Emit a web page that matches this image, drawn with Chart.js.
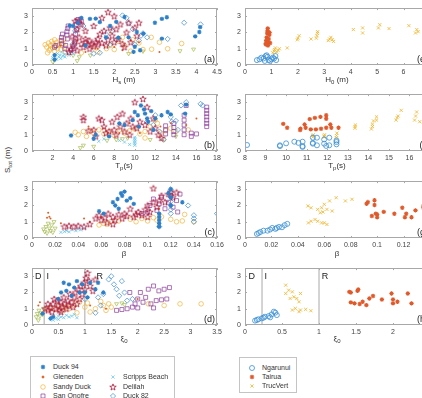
<!DOCTYPE html>
<html>
<head>
<meta charset="utf-8">
<script src="https://cdn.jsdelivr.net/npm/chart.js@4.4.1/dist/chart.umd.min.js"></script>
<style>
body { margin:0; width:422px; height:398px; overflow:hidden; position:relative; background:#fff;
       font-family:"Liberation Sans", Arial, sans-serif; color:#333; }
canvas { position:absolute; }
.titulo { position:absolute; font-size:8px; transform:translate(-50%,-50%); white-space:nowrap; }
.titulo sub { font-size:6px; vertical-align:-2px; }
.ylabel { position:absolute; left:8px; top:160px; font-size:8px; white-space:nowrap;
          transform:translate(-50%,-50%) rotate(-90deg); }
.ylabel sub { font-size:6px; vertical-align:-2px; }
.leyenda { position:absolute; border:1px solid #c4c4c4; background:#fff; }
.item { position:absolute; font-size:7px; white-space:nowrap; line-height:8px; }
.item canvas { position:absolute; left:-15px; top:-1px; }
</style>
</head>
<body>

<div class="ylabel">S<sub>tot</sub> (m)</div>

<script>
// ---- ticks ----
const ticksS = [0, 1, 2, 3];
const ticksHs = [0, 0.5, 1, 1.5, 2, 2.5, 3, 3.5, 4, 4.5];
const ticksTp = [2, 4, 6, 8, 10, 12, 14, 16, 18];
const ticksBeta = [0, 0.02, 0.04, 0.06, 0.08, 0.1, 0.12, 0.14, 0.16];
const ticksXi = [0, 0.5, 1, 1.5, 2, 2.5, 3, 3.5];
const ticksH0 = [0, 1, 2, 3, 4, 5, 6, 7];
const ticksTp2 = [8, 9, 10, 11, 12, 13, 14, 15, 16, 17];
const ticksBeta2 = [0, 0.02, 0.04, 0.06, 0.08, 0.1, 0.12, 0.14];
const ticksXi2 = [0, 0.5, 1, 1.5, 2, 2.5];

// limites de regimen (D / I / R)
const limitesXi = [0.23, 1];

// ---- (a) Hs ----
const duck94_a = [[0.92,2.43],[1.0,2.4],[1.12,2.6],[1.2,2.9],[1.41,2.84],[1.55,2.85],[1.65,2.64],[1.9,2.4],[2.05,2.65],[2.25,2.95],[2.1,1.68],[2.35,1.7],[2.55,2.03],[2.71,1.93],[2.99,2.6],[3.16,2.84],[3.28,2.94],[3.16,1.62],[3.97,1.76],[4.07,2.03],[4.09,2.33],[2.47,0.81],[2.63,0.91],[2.5,1.12],[1.3,1.2],[0.55,0.61],[0.55,0.34],[1.8,1.7]];
const gleneden_a = [[0.7,1.2],[1.1,1.5],[1.3,0.8],[1.6,1.0],[2.0,1.1],[2.4,1.5],[2.6,1.4],[3.1,0.8],[2.2,0.9],[1.9,2.0]];
const sandy_a = [[0.32,1.25],[0.36,1.1],[0.4,1.35],[0.42,0.9],[0.45,1.2],[0.48,1.45],[0.5,1.05],[0.52,1.3],[0.55,0.85],[0.58,1.15],[0.6,1.4],[0.62,1.0],[0.65,1.25],[0.68,1.5],[0.7,0.95],[0.72,1.2],[0.75,1.35],[0.78,1.6],[0.8,1.1],[0.82,0.8],[0.38,0.75],[0.55,1.55],[0.45,1.0],[1.6,0.8],[1.81,1.01],[1.9,1.2],[2.0,0.95],[2.1,1.45],[2.25,1.2],[2.4,0.85],[2.45,1.55],[2.6,1.35],[2.7,0.95],[2.91,0.97],[2.9,1.7],[3.1,1.4],[3.64,1.32],[3.3,1.0],[1.5,1.05],[1.2,0.75],[2.2,1.7]];
const sanOnofre_a = [[0.55,1.1],[0.58,1.2],[0.72,1.3],[0.72,1.5],[0.72,1.7],[0.74,1.9],[0.8,1.0],[0.82,1.2],[0.85,1.85],[0.85,2.05],[0.87,2.25],[0.88,2.4],[0.86,1.6],[1.02,1.0],[1.04,1.3],[1.05,1.6],[1.06,1.9],[1.08,2.2],[1.08,2.5],[1.1,2.7],[1.12,2.8],[1.15,2.6],[1.2,2.7],[0.95,0.9]];
const scripps_a = [[0.5,0.45],[0.55,0.55],[0.6,0.35],[0.62,0.7],[0.65,0.5],[0.68,0.6],[0.7,0.4],[0.72,0.8],[0.75,0.55],[0.78,0.65],[0.8,0.5],[0.85,0.75],[0.9,0.6],[0.95,0.85],[1.0,0.7]];
const delilah_a = [[0.9,0.8],[0.95,1.0],[1.0,1.2],[1.05,1.45],[1.1,0.9],[1.15,1.7],[1.2,1.3],[1.25,1.1],[1.3,1.4],[1.3,1.6],[1.35,1.25],[1.4,1.0],[1.4,1.5],[1.45,1.3],[1.5,1.15],[1.55,1.4],[1.6,1.6],[1.6,1.25],[1.65,1.9],[1.7,1.35],[1.75,2.1],[1.8,1.2],[1.85,1.55],[1.9,2.3],[1.95,1.8],[2.0,1.4],[2.05,2.2],[2.1,1.6],[2.15,2.5],[2.2,1.3],[2.3,2.0],[2.35,2.6],[2.4,1.4],[2.5,2.3],[2.55,1.8],[1.2,2.5],[1.15,2.75],[1.05,2.7],[1.85,3.25],[1.7,2.9],[2.0,3.0],[1.3,2.1],[1.1,2.2],[0.98,1.75],[1.5,2.4],[2.25,1.1],[2.6,2.6]];
const duck82_a = [[1.0,1.3],[1.05,2.1],[1.5,0.7],[1.65,0.75],[1.8,1.9],[1.95,2.1],[2.05,1.55],[2.2,3.05],[2.3,2.9],[2.35,2.55],[2.45,2.2],[2.5,1.25],[2.6,1.5],[2.65,1.8],[2.7,1.95],[2.8,1.7],[3.3,1.6],[3.7,2.6],[4.1,2.5],[1.25,2.4],[1.9,1.25]];
const otros_a = [[0.5,0.22],[0.55,0.3],[1.1,0.26],[1.15,0.5],[1.42,0.6],[1.0,0.6],[2.7,0.85],[3.6,0.87],[3.93,0.97],[2.35,0.7]];

// ---- (b) Tp ----
const duck94_b = [[3.8,0.95],[6.0,0.75],[6.2,1.0],[7.5,0.9],[9.0,1.6],[9.8,1.9],[10.0,2.4],[10.3,2.2],[10.6,2.8],[10.9,2.55],[11.0,2.3],[11.2,2.0],[11.3,1.8],[11.6,2.45],[12.0,2.0],[12.6,2.2],[13.2,2.4],[13.5,2.25],[14.9,2.3],[15.0,2.85],[10.4,1.5],[11.8,1.3],[8.5,1.7]];
const gleneden_b = [[5.5,1.5],[7.0,1.4],[8.5,1.1],[9.5,1.7],[10.5,1.1],[12.5,1.5],[13.5,1.7],[15.0,1.6],[16.0,2.0]];
const sandy_b = [[4.2,1.15],[4.5,1.0],[5.0,1.2],[5.3,0.9],[5.7,1.25],[6.0,1.1],[6.5,1.3],[7.0,1.05],[7.5,1.2],[8.0,0.95],[8.5,1.3],[9.0,1.1],[9.5,1.25],[10.0,1.35],[10.5,1.05],[11.0,1.2],[11.5,1.5],[12.0,1.9],[12.2,1.7],[12.5,1.1],[13.0,1.25],[13.5,1.4],[14.0,1.2],[15.2,1.3],[11.0,0.8],[12.8,0.7]];
const sanOnofre_b = [[13.0,1.05],[13.0,1.3],[13.0,1.55],[13.8,1.0],[13.8,1.2],[13.8,1.45],[13.8,1.7],[14.8,1.0],[14.8,1.3],[14.8,1.6],[14.8,1.9],[14.8,2.2],[15.5,0.9],[15.5,1.1],[17.0,1.5],[17.0,1.7],[17.0,1.9],[17.0,2.1],[17.0,2.3],[17.0,2.5],[17.0,2.7],[16.0,1.05],[15.0,2.8]];
const scripps_b = [[10.0,0.35],[10.0,0.45],[10.0,0.55],[10.0,0.65],[10.0,0.75],[10.0,0.85],[9.0,0.55],[8.5,0.65],[6.5,0.6],[7.0,0.75],[9.5,0.4]];
const delilah_b = [[5.0,1.9],[5.0,2.1],[5.5,1.25],[6.0,1.3],[6.5,2.0],[6.8,1.9],[7.0,1.5],[7.5,1.2],[7.8,1.8],[8.0,1.3],[8.3,2.1],[8.6,1.5],[8.8,2.3],[9.0,1.2],[9.2,1.7],[9.5,1.0],[9.6,2.0],[10.0,3.0],[10.2,1.4],[10.5,1.8],[10.8,3.2],[11.0,1.6],[11.2,2.7],[11.5,1.2],[11.8,2.0],[12.0,1.4],[12.3,1.0],[12.6,0.8],[9.8,1.5],[8.2,1.0],[7.2,1.1],[6.2,0.9]];
const duck82_b = [[11.2,1.8],[11.8,1.6],[12.0,2.2],[12.4,1.2],[12.8,0.7],[13.5,2.1],[13.6,1.8],[14.0,1.85],[14.5,2.8],[15.0,3.0],[16.4,2.9],[16.6,2.8],[14.2,1.3]];
const otros_b = [[4.7,0.2],[5.0,0.35],[6.0,0.28],[7.3,0.65],[8.2,0.7],[8.8,0.75],[9.3,0.8],[14.0,0.9],[11.5,0.7]];

// ---- (c) beta ----
const duck94_c = [[0.07,2.2],[0.072,2.0],[0.074,2.4],[0.075,1.8],[0.077,2.75],[0.078,2.6],[0.08,2.85],[0.082,2.3],[0.085,2.45],[0.088,2.1],[0.058,1.65],[0.062,1.5],[0.11,0.7],[0.11,0.9],[0.11,1.1],[0.11,1.3],[0.11,1.5],[0.12,2.0],[0.12,2.5],[0.12,3.0],[0.118,2.75],[0.13,2.2]];
const gleneden_c = [[0.013,1.25],[0.014,1.55],[0.015,1.3],[0.016,1.2],[0.025,0.9],[0.045,1.2],[0.05,1.0],[0.06,1.3],[0.09,1.5],[0.11,1.8]];
const sandy_c = [[0.058,0.8],[0.062,0.9],[0.065,0.85],[0.068,1.0],[0.075,1.05],[0.085,1.15],[0.09,1.0],[0.095,1.2],[0.1,1.05],[0.105,1.25],[0.108,1.1],[0.112,1.3],[0.12,1.15],[0.125,1.0],[0.13,1.05],[0.14,1.0],[0.132,1.45]];
const sanOnofre_c = [[0.1,1.6],[0.102,2.0],[0.105,2.4],[0.108,1.7],[0.11,2.1],[0.112,2.5],[0.115,1.8],[0.118,2.2],[0.12,2.6],[0.122,1.9],[0.125,2.3],[0.126,1.6],[0.128,2.7],[0.095,1.5]];
const scripps_c = [[0.025,0.35],[0.028,0.4],[0.03,0.45],[0.032,0.38],[0.035,0.5],[0.038,0.45],[0.04,0.55],[0.042,0.5],[0.045,0.6]];
const delilah_c = [[0.028,0.7],[0.032,0.75],[0.036,0.7],[0.04,0.75],[0.045,0.7],[0.05,0.85],[0.055,1.2],[0.058,1.4],[0.06,1.1],[0.063,1.25],[0.066,1.5],[0.07,1.3],[0.072,1.1],[0.075,1.45],[0.078,1.2],[0.08,1.5],[0.082,1.35],[0.085,1.8],[0.088,1.3],[0.09,1.45],[0.092,1.6],[0.095,1.4],[0.098,1.75],[0.1,2.0],[0.102,1.6],[0.105,3.05],[0.105,2.2],[0.108,1.9],[0.11,2.3],[0.112,2.6],[0.115,2.2],[0.118,2.7],[0.12,2.85],[0.122,2.5],[0.125,2.8],[0.1,1.3],[0.065,0.95],[0.07,0.85]];
const duck82_c = [[0.12,1.5],[0.12,1.75],[0.12,2.0],[0.12,2.25],[0.12,2.5],[0.12,2.8],[0.12,3.0],[0.11,0.7],[0.14,1.0],[0.14,1.2],[0.14,1.4],[0.16,1.5],[0.135,2.0]];
const otros_c = [[0.01,0.55],[0.011,0.4],[0.012,0.7],[0.013,0.3],[0.014,0.9],[0.015,0.6],[0.016,0.45],[0.017,0.8],[0.018,0.35],[0.019,1.0],[0.02,0.6]];

// ---- (d) xi0 ----
const duck94_d = [[0.5,1.6],[0.55,2.0],[0.6,2.6],[0.65,2.1],[0.7,2.5],[0.75,1.8],[0.8,2.3],[0.85,2.7],[0.9,2.0],[0.95,2.5],[1.0,2.0],[1.05,1.7],[1.1,2.6],[1.2,2.2],[1.25,2.6],[1.35,2.0],[0.4,0.5],[0.35,0.4],[0.2,0.7]];
const gleneden_d = [[0.12,1.2],[0.15,1.4],[0.35,0.9],[0.5,1.0],[0.8,1.5],[1.1,1.2],[1.4,1.0],[2.0,1.6]];
const sandy_d = [[0.3,1.0],[0.35,1.1],[0.45,0.95],[0.5,1.2],[0.55,1.05],[0.6,0.9],[0.65,1.15],[0.7,1.0],[0.8,1.2],[0.9,1.4],[1.0,1.1],[1.05,1.35],[1.1,0.8],[1.2,1.0],[1.3,1.45],[1.35,1.2],[1.4,0.9],[1.45,1.3],[1.5,1.1],[2.2,1.3],[2.5,1.2],[2.8,1.3],[3.2,1.3],[0.85,0.75]];
const sanOnofre_d = [[1.6,0.9],[1.7,0.95],[1.8,1.0],[1.9,1.1],[1.95,1.3],[2.0,1.6],[2.05,2.0],[2.1,1.4],[2.15,1.7],[2.2,2.2],[2.25,1.3],[2.3,2.4],[2.35,1.5],[2.4,2.1],[2.45,1.55],[2.5,2.2],[2.55,1.6],[2.6,2.3],[1.85,2.0],[2.0,1.05],[2.3,1.05]];
const scripps_d = [[0.4,0.3],[0.45,0.4],[0.5,0.35],[0.55,0.5],[0.6,0.45],[0.65,0.6],[0.7,0.5],[0.75,0.55],[0.8,0.65],[0.5,0.55],[0.85,0.45]];
const delilah_d = [[0.3,0.9],[0.35,1.1],[0.38,0.8],[0.4,1.3],[0.45,1.0],[0.48,1.5],[0.5,1.2],[0.52,0.9],[0.55,1.4],[0.58,1.1],[0.6,1.7],[0.62,1.3],[0.65,1.0],[0.68,1.5],[0.7,1.2],[0.72,1.9],[0.75,1.4],[0.78,1.1],[0.8,1.7],[0.82,2.0],[0.85,1.3],[0.88,2.2],[0.9,1.6],[0.92,2.4],[0.95,1.9],[0.98,2.6],[1.0,2.2],[1.02,2.9],[1.05,3.2],[1.08,2.7],[1.1,2.4],[1.15,2.1],[1.2,2.8],[0.42,1.6],[0.55,0.8],[0.25,1.0],[0.3,1.3]];
const duck82_d = [[1.0,1.6],[1.2,0.75],[1.3,1.2],[1.35,1.9],[1.45,2.8],[1.5,3.0],[1.55,2.5],[1.6,2.2],[1.65,1.8],[1.7,2.7],[1.75,2.0],[1.8,1.5],[1.9,1.6],[1.25,1.7]];
const otros_d = [[0.08,0.5],[0.1,0.7],[0.12,0.3],[0.13,0.9],[0.15,0.55],[0.17,0.75],[0.2,0.65],[0.22,1.0],[1.6,1.3],[1.7,1.35],[1.75,1.25]];

// ---- (e) H0 ----
const ngarunui_e = [[0.45,0.3],[0.55,0.35],[0.62,0.45],[0.7,0.4],[0.78,0.55],[0.82,0.6],[0.9,0.3],[0.95,0.25],[1.0,0.35],[1.05,0.45],[1.1,0.4],[1.15,0.55],[1.18,0.3],[0.85,0.5],[0.75,0.25]];
const tairua_e = [[0.78,1.3],[0.8,1.5],[0.82,1.7],[0.84,1.95],[0.85,2.1],[0.86,2.25],[0.88,1.4],[0.9,1.6],[0.92,1.85],[0.93,2.0],[0.95,1.35],[0.8,1.25],[0.87,1.2]];
const trucvert_e = [[1.05,0.75],[1.1,0.85],[1.12,0.95],[1.15,1.05],[1.2,0.8],[1.25,0.9],[1.3,1.0],[1.6,1.05],[1.98,1.55],[2.0,1.65],[2.05,1.8],[2.5,1.6],[2.7,1.65],[2.72,1.8],[2.74,1.95],[2.75,2.05],[3.15,1.5],[3.2,1.6],[3.25,1.7],[3.3,1.55],[3.35,1.45],[4.1,2.18],[4.45,1.97],[4.45,2.28],[5.05,2.28],[5.1,2.48],[5.45,2.24],[6.2,2.42],[6.45,1.97],[6.5,2.18],[6.55,2.05]];

// ---- (f) Tp ----
const ngarunui_f = [[8.1,0.37],[9.7,0.35],[9.7,0.3],[10.0,0.47],[10.4,0.57],[10.6,0.5],[10.8,0.57],[10.8,0.3],[10.8,0.25],[11.3,0.45],[11.3,0.5],[11.3,0.82],[11.5,0.82],[11.5,0.35],[11.85,0.71],[11.85,0.45],[11.95,0.31],[12.1,0.82],[12.1,0.35],[12.45,0.65],[12.45,0.41],[12.45,0.55]];
const tairua_f = [[9.86,1.67],[10.05,1.43],[10.68,1.29],[10.7,1.37],[10.9,1.63],[10.95,1.43],[11.15,1.96],[11.4,2.04],[11.67,2.1],[11.95,2.2],[11.95,1.98],[11.2,1.33],[11.45,1.33],[11.7,1.37],[11.95,1.43],[12.2,1.43],[12.55,1.43],[12.15,1.63]];
const trucvert_f = [[11.3,0.85],[11.3,0.95],[11.32,1.0],[11.85,0.85],[11.85,0.92],[11.87,1.0],[12.45,0.8],[12.45,0.95],[12.47,1.1],[13.35,1.4],[13.35,1.5],[13.37,1.6],[14.15,1.35],[14.2,1.5],[14.2,1.65],[14.25,1.85],[14.4,1.9],[14.4,2.1],[15.35,1.9],[15.4,2.05],[15.45,2.15],[15.6,2.5],[16.25,1.9],[16.3,2.15],[16.35,2.4],[16.5,1.8]];

// ---- (g) beta ----
const ngarunui_g = [[0.009,0.25],[0.0103,0.31],[0.0116,0.37],[0.014,0.45],[0.017,0.45],[0.019,0.52],[0.0206,0.62],[0.023,0.56],[0.024,0.62],[0.0257,0.68],[0.028,0.66],[0.03,0.79],[0.032,0.87]];
const tairua_g = [[0.092,2.11],[0.093,2.21],[0.098,2.32],[0.098,2.03],[0.096,1.35],[0.099,1.5],[0.1,1.28],[0.1,1.45],[0.105,1.61],[0.113,1.49],[0.119,1.86],[0.121,1.28],[0.122,1.49],[0.126,1.28],[0.129,1.7],[0.135,1.97],[0.135,1.86]];
const trucvert_g = [[0.0476,1.97],[0.05,1.86],[0.055,1.76],[0.058,1.86],[0.06,2.07],[0.062,1.76],[0.064,2.28],[0.069,2.48],[0.076,2.28],[0.081,2.38],[0.053,1.14],[0.055,1.03],[0.058,0.93],[0.06,0.93],[0.062,0.83],[0.05,1.03],[0.048,0.93],[0.066,1.66],[0.059,1.6],[0.057,1.55]];

// ---- (h) xi0 ----
const ngarunui_h = [[0.136,0.27],[0.16,0.31],[0.18,0.35],[0.227,0.41],[0.25,0.45],[0.27,0.51],[0.32,0.55],[0.34,0.47],[0.36,0.65],[0.39,0.82],[0.41,0.76],[0.43,0.61]];
const tairua_h = [[1.41,2.04],[1.43,2.0],[1.52,2.1],[1.53,2.18],[1.43,1.39],[1.48,1.33],[1.55,1.29],[1.59,1.43],[1.64,1.22],[1.68,1.63],[1.73,1.78],[1.85,1.57],[1.98,1.94],[2.0,1.57],[2.0,1.33],[2.06,1.43],[2.2,1.94],[2.25,1.33]];
const trucvert_h = [[0.55,2.45],[0.59,2.14],[0.55,1.94],[0.64,2.04],[0.66,1.73],[0.7,1.63],[0.75,1.94],[0.61,1.63],[0.73,1.43],[0.64,0.92],[0.68,1.02],[0.75,0.92],[0.82,0.96],[0.89,0.88],[0.73,0.82]];

// ---- estilos ----
function pentagrama(color) {
    const c = document.createElement("canvas");
    c.width = 8; c.height = 8;
    const ctx = c.getContext("2d");
    ctx.strokeStyle = color;
    ctx.lineWidth = 0.8;
    ctx.beginPath();
    for (let i = 0; i < 10; i++) {
        const r = i % 2 === 0 ? 3.4 : 1.4;
        const ang = -Math.PI / 2 + i * Math.PI / 5;
        const px = 4 + r * Math.cos(ang), py = 4.3 + r * Math.sin(ang);
        if (i === 0) ctx.moveTo(px, py); else ctx.lineTo(px, py);
    }
    ctx.closePath();
    ctx.stroke();
    return c;
}

const estilos = {
    duck94:    { label: "Duck 94",       color: "#2d7fc8", forma: "star",     r: 2.2, w: 1.1 },
    gleneden:  { label: "Gleneden",      color: "#d9622b", forma: "circle",   r: 1.0, w: 0, fill: "#d9622b" },
    sandy:     { label: "Sandy Duck",    color: "#f0b43c", forma: "circle",   r: 2.3, w: 0.7 },
    sanOnofre: { label: "San Onofre",    color: "#8a3a9a", forma: "rect",     r: 2.8, w: 0.7 },
    scripps:   { label: "Scripps Beach", color: "#5cc0e8", forma: "crossRot", r: 2.2, w: 0.7 },
    delilah:   { label: "Delilah",       color: "#a8183a", forma: pentagrama("#a8183a"), r: 2.6, w: 0.7 },
    duck82:    { label: "Duck 82",       color: "#3b8ad0", forma: "rectRot",  r: 2.6, w: 0.7 },
    otros:     { label: "",              color: "#a6bc52", forma: "triangle", r: 2.3, w: 0.7, rot: 180 },
    ngarunui:  { label: "Ngarunui",      color: "#3a8fd4", forma: "circle",   r: 2.5, w: 0.8 },
    tairua:    { label: "Tairua",        color: "#e0592a", forma: "star",     r: 2.2, w: 1.1 },
    trucvert:  { label: "TrucVert",      color: "#efb52c", forma: "crossRot", r: 2.2, w: 0.8 }
};

function serie(clave, datos) {
    const e = estilos[clave];
    return {
        label: e.label,
        data: datos.map(p => ({ x: p[0], y: p[1] })),
        pointStyle: e.forma,
        pointRadius: e.r,
        pointRotation: e.rot || 0,
        borderWidth: e.w,
        pointBorderWidth: e.w,
        borderColor: e.color,
        backgroundColor: e.fill || "rgba(0,0,0,0)"
    };
}

function linea(x) {
    return {
        type: "line", label: "",
        data: [{ x: x, y: 0 }, { x: x, y: 3.5 }],
        borderColor: "#a8a8a8", borderWidth: 1, pointRadius: 0, showLine: true
    };
}

// ---- paneles ----
const izq = 32, der = 245, anchoPlot = 185, altoPlot = 57;
const tops = [8, 94, 181, 268];

const paneles = [
    { left: izq, top: tops[0], ticks: ticksHs, max: 4.5, etiqueta: "(a)",
      series: [serie("duck94", duck94_a), serie("delilah", delilah_a), serie("gleneden", gleneden_a), serie("duck82", duck82_a),
               serie("sanOnofre", sanOnofre_a), serie("scripps", scripps_a), serie("sandy", sandy_a), serie("otros", otros_a)] },
    { left: izq, top: tops[1], ticks: ticksTp, max: 18, etiqueta: "(b)",
      series: [serie("duck94", duck94_b), serie("delilah", delilah_b), serie("gleneden", gleneden_b), serie("duck82", duck82_b),
               serie("sanOnofre", sanOnofre_b), serie("scripps", scripps_b), serie("sandy", sandy_b), serie("otros", otros_b)] },
    { left: izq, top: tops[2], ticks: ticksBeta, max: 0.16, etiqueta: "(c)",
      series: [serie("duck94", duck94_c), serie("delilah", delilah_c), serie("gleneden", gleneden_c), serie("duck82", duck82_c),
               serie("sanOnofre", sanOnofre_c), serie("scripps", scripps_c), serie("sandy", sandy_c), serie("otros", otros_c)] },
    { left: izq, top: tops[3], ticks: ticksXi, max: 3.5, etiqueta: "(d)",
      regimen: [[0.12, "D"], [0.3, "I"], [1.28, "R"]],
      series: [serie("duck94", duck94_d), serie("delilah", delilah_d), serie("gleneden", gleneden_d), serie("duck82", duck82_d),
               serie("sanOnofre", sanOnofre_d), serie("scripps", scripps_d), serie("sandy", sandy_d), serie("otros", otros_d),
               linea(limitesXi[0]), linea(limitesXi[1])] },
    { left: der, top: tops[0], ticks: ticksH0, max: 7, etiqueta: "(e)",
      series: [serie("ngarunui", ngarunui_e), serie("tairua", tairua_e), serie("trucvert", trucvert_e)] },
    { left: der, top: tops[1], ticks: ticksTp2, min: 8, max: 17, etiqueta: "(f)",
      series: [serie("ngarunui", ngarunui_f), serie("tairua", tairua_f), serie("trucvert", trucvert_f)] },
    { left: der, top: tops[2], ticks: ticksBeta2, max: 0.14, etiqueta: "(g)",
      series: [serie("ngarunui", ngarunui_g), serie("tairua", tairua_g), serie("trucvert", trucvert_g)] },
    { left: der, top: tops[3], ticks: ticksXi2, max: 2.5, etiqueta: "(h)",
      regimen: [[0.09, "D"], [0.28, "I"], [1.08, "R"]],
      series: [serie("ngarunui", ngarunui_h), serie("tairua", tairua_h), serie("trucvert", trucvert_h),
               linea(limitesXi[0]), linea(limitesXi[1])] }
];

// marco completo con ticks hacia dentro, etiqueta del panel y D/I/R
const marcoPlugin = {
    id: "marco",
    afterDatasetsDraw(chart, args, opts) {
        const { ctx, chartArea: a, scales } = chart;
        ctx.save();
        ctx.strokeStyle = "#a8a8a8";
        ctx.lineWidth = 1;
        ctx.strokeRect(Math.round(a.left) + 0.5, Math.round(a.top) + 0.5,
                       Math.round(a.width) - 1, Math.round(a.height) - 1);
        ctx.beginPath();
        scales.x.ticks.forEach(t => {
            const px = Math.round(scales.x.getPixelForValue(t.value)) + 0.5;
            ctx.moveTo(px, a.bottom); ctx.lineTo(px, a.bottom - 2);
            ctx.moveTo(px, a.top); ctx.lineTo(px, a.top + 2);
        });
        scales.y.ticks.forEach(t => {
            const py = Math.round(scales.y.getPixelForValue(t.value)) + 0.5;
            ctx.moveTo(a.left, py); ctx.lineTo(a.left + 2, py);
            ctx.moveTo(a.right, py); ctx.lineTo(a.right - 2, py);
        });
        ctx.stroke();

        ctx.fillStyle = "#222";
        ctx.font = '9px "Liberation Sans", Arial, sans-serif';
        ctx.textAlign = "right";
        ctx.textBaseline = "alphabetic";
        ctx.fillText(opts.etiqueta, a.right - 2, a.bottom - 3);

        if (opts.regimen) {
            ctx.textAlign = "center";
            ctx.textBaseline = "middle";
            opts.regimen.forEach(r => {
                ctx.fillText(r[1], scales.x.getPixelForValue(r[0]), a.top + 8);
            });
        }
        ctx.restore();
    }
};

const fuenteTicks = { family: '"Liberation Sans", Arial, sans-serif', size: 7 };

function crearPanel(p) {
    const margenIzq = 24, margenSup = 5, margenDer = 12, altoEje = 14;
    const canvas = document.createElement("canvas");
    canvas.width = margenIzq + anchoPlot + margenDer;
    canvas.height = margenSup + altoPlot + altoEje;
    canvas.style.left = (p.left - margenIzq) + "px";
    canvas.style.top = (p.top - margenSup) + "px";
    document.body.appendChild(canvas);

    new Chart(canvas, {
        type: "scatter",
        data: { datasets: p.series },
        plugins: [marcoPlugin],
        options: {
            responsive: false,
            animation: false,
            events: [],
            layout: { padding: { top: margenSup, right: margenDer, left: 0, bottom: 0 } },
            plugins: {
                legend: { display: false },
                tooltip: { enabled: false },
                marco: { etiqueta: p.etiqueta, regimen: p.regimen }
            },
            scales: {
                x: {
                    type: "linear", min: p.min || 0, max: p.max,
                    grid: { display: false, drawTicks: false },
                    border: { display: false },
                    ticks: { font: fuenteTicks, color: "#444", padding: 3, maxRotation: 0,
                             callback: v => String(v) },
                    afterBuildTicks: s => { s.ticks = p.ticks.map(v => ({ value: v })); },
                    afterFit: s => { s.height = altoEje; s.paddingLeft = 0; s.paddingRight = 0; }
                },
                y: {
                    type: "linear", min: 0, max: 3.5,
                    grid: { display: false, drawTicks: false },
                    border: { display: false },
                    ticks: { font: fuenteTicks, color: "#444", padding: 4,
                             callback: v => String(v) },
                    afterBuildTicks: s => { s.ticks = ticksS.map(v => ({ value: v })); },
                    afterFit: s => { s.width = margenIzq; s.paddingTop = 0; s.paddingBottom = 0; }
                }
            }
        }
    });
}

paneles.forEach(crearPanel);

// ---- titulos de ejes ----
const titulos = [
    [124, 80, "H<sub>s</sub> (m)"], [124, 166, "T<sub>p</sub>(s)"], [124, 253, "β"], [124, 339, "ξ<sub>0</sub>"],
    [337, 80, "H<sub>0</sub> (m)"], [337, 166, "T<sub>p</sub>(s)"], [337, 253, "β"], [337, 339, "ξ<sub>0</sub>"]
];
titulos.forEach(t => {
    const d = document.createElement("div");
    d.className = "titulo";
    d.style.left = t[0] + "px";
    d.style.top = t[1] + "px";
    d.innerHTML = t[2];
    document.body.appendChild(d);
});

// ---- leyendas ----
function marcador(e) {
    const c = document.createElement("canvas");
    c.width = 10; c.height = 10;
    const ctx = c.getContext("2d");
    ctx.strokeStyle = e.color;
    ctx.fillStyle = e.fill || "rgba(0,0,0,0)";
    ctx.lineWidth = e.w;
    Chart.helpers.drawPoint(ctx, { pointStyle: e.forma, rotation: e.rot || 0, radius: e.r, borderWidth: e.w || 1 }, 5, 5);
    return c;
}

function crearLeyenda(caja, filas) {
    const box = document.createElement("div");
    box.className = "leyenda";
    box.style.left = caja[0] + "px";
    box.style.top = caja[1] + "px";
    box.style.width = caja[2] + "px";
    box.style.height = caja[3] + "px";
    document.body.appendChild(box);
    filas.forEach(f => {
        const item = document.createElement("div");
        item.className = "item";
        item.style.left = (f[1] - caja[0]) + "px";
        item.style.top = (f[2] - caja[1] - 4) + "px";
        item.appendChild(marcador(estilos[f[0]]));
        item.appendChild(document.createTextNode(estilos[f[0]].label));
        box.appendChild(item);
    });
}

crearLeyenda([30, 356, 143, 60], [
    ["duck94", 52, 366], ["gleneden", 52, 376], ["sandy", 52, 386], ["sanOnofre", 52, 395],
    ["scripps", 122, 376], ["delilah", 122, 386], ["duck82", 122, 395]
]);
crearLeyenda([239, 357, 56, 34], [
    ["ngarunui", 261, 367], ["tairua", 261, 376], ["trucvert", 261, 385]
]);
</script>
</body>
</html>
